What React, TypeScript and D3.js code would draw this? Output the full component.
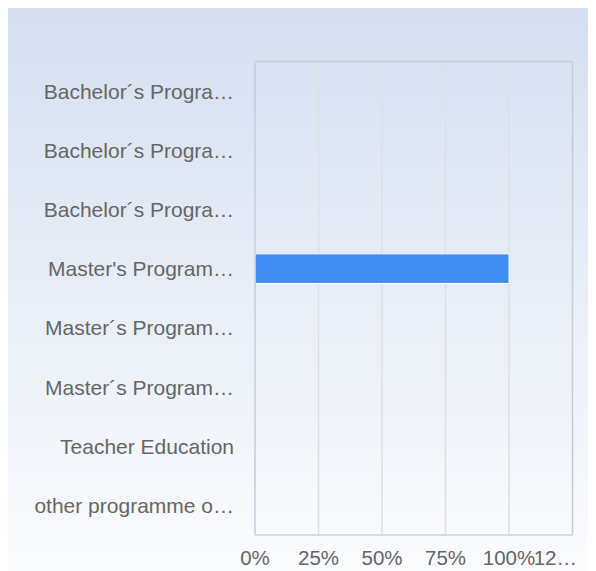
import React from "react";
import * as d3 from "d3";

const categories = [
  "Bachelor´s Progra…",
  "Bachelor´s Progra…",
  "Bachelor´s Progra…",
  "Master's Program…",
  "Master´s Program…",
  "Master´s Program…",
  "Teacher Education",
  "other programme o…",
];
const values = [0, 0, 0, 100, 0, 0, 0, 0];
const tickValues = [0, 25, 50, 75, 100, 125];
const tickLabels = ["0%", "25%", "50%", "75%", "100%", "12…"];

const W = 588;
const H = 563;
const margin = { left: 247, right: 23.5, top: 53.5, bottom: 36 };
const FONT = "'Liberation Sans', Arial, sans-serif";

export default function App() {
  const x = d3
    .scaleLinear()
    .domain([0, 125])
    .range([margin.left, W - margin.right]);
  const y = d3
    .scaleBand<number>()
    .domain(d3.range(categories.length))
    .range([margin.top, H - margin.bottom])
    .paddingInner(0.5)
    .paddingOuter(0.25);
  const band = d3
    .scaleBand<number>()
    .domain(d3.range(categories.length))
    .range([margin.top, H - margin.bottom]);

  const top = margin.top;
  const bottom = H - margin.bottom;
  const left = margin.left;
  const right = W - margin.right;

  return (
    <svg width={W} height={H} style={{ display: "block" }}>
      <defs>
        <linearGradient id="bg" x1="0" y1="0" x2="0" y2="1">
          <stop offset="0" stopColor="#d4dff0" />
          <stop offset="1" stopColor="#fbfcfe" />
        </linearGradient>
      </defs>
      <rect x={0} y={0} width={W} height={H} fill="url(#bg)" />
      {tickValues.slice(1, -1).map((t) => (
        <line
          key={t}
          x1={x(t)}
          x2={x(t)}
          y1={top}
          y2={bottom}
          stroke="#dedfe3"
          strokeWidth={1.5}
        />
      ))}
      <line x1={left} x2={right} y1={top} y2={top} stroke="#c9cbd0" strokeWidth={1.5} />
      <line x1={right} x2={right} y1={top} y2={bottom} stroke="#c9cbd0" strokeWidth={1.5} />
      {values.map((v, i) => (
        <rect
          key={i}
          x={x(0)}
          y={y(i)!}
          width={Math.max(0, x(v) - x(0))}
          height={y.bandwidth()}
          fill="#418cf0"
          stroke={v > 0 ? "#ffffff" : "none"}
          strokeWidth={1}
          opacity={v > 0 ? 1 : 0}
        />
      ))}
      <line x1={left} x2={left} y1={top} y2={bottom} stroke="#c3cde0" strokeWidth={1.5} />
      <line x1={left} x2={right} y1={bottom} y2={bottom} stroke="#c8d0e0" strokeWidth={1.5} />
      {categories.map((c, i) => (
        <text
          key={i}
          x={left - 21}
          y={band(i)! + band.bandwidth() / 2}
          dy="0.36em"
          textAnchor="end"
          fontFamily={FONT}
          fontSize={21}
          fill="#666666"
        >
          {c}
        </text>
      ))}
      {tickValues.map((t, i) => {
        const last = i === tickValues.length - 1;
        return (
          <text
            key={t}
            x={last ? x(t) + 4.5 : x(t)}
            y={bottom + 30}
            textAnchor={last ? "end" : "middle"}
            fontFamily={FONT}
            fontSize={20.5}
            fill="#666666"
          >
            {tickLabels[i]}
          </text>
        );
      })}
    </svg>
  );
}
